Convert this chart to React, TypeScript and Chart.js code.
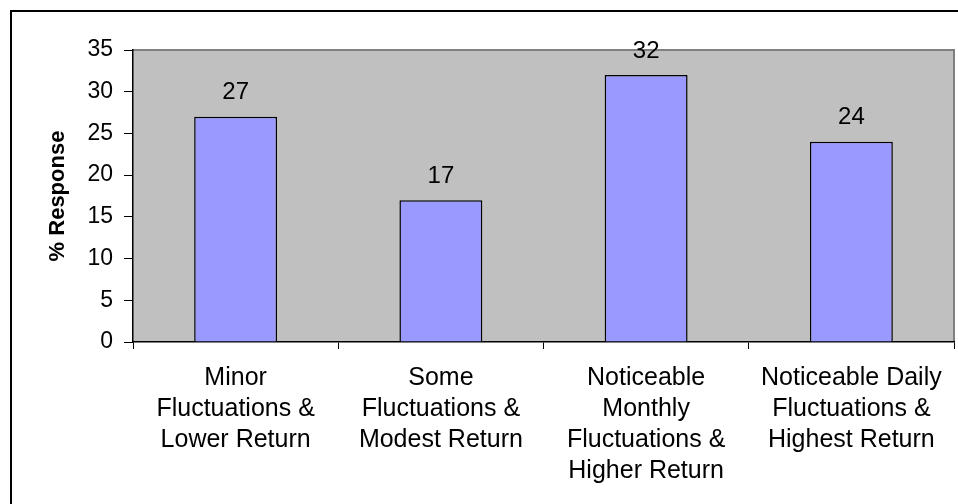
import React, { useEffect, useRef } from "react";
import { Chart, registerables } from "chart.js";

Chart.register(...registerables);

const categories: string[][] = [
  ["Minor", "Fluctuations &", "Lower Return"],
  ["Some", "Fluctuations &", "Modest Return"],
  ["Noticeable", "Monthly", "Fluctuations &", "Higher Return"],
  ["Noticeable Daily", "Fluctuations &", "Highest Return"],
];
const responseValues: number[] = [27, 17, 32, 24];
const yAxisTitle = "% Response";
const yMin = 0;
const yMax = 35;
const yStep = 5;

const FONT = "'Liberation Sans', Arial, sans-serif";

const plotBgPlugin = {
  id: "plotBg",
  beforeDraw(chart: any) {
    const { ctx, chartArea } = chart;
    if (!chartArea) return;
    ctx.save();
    ctx.fillStyle = "#C0C0C0";
    ctx.fillRect(chartArea.left, chartArea.top, chartArea.right - chartArea.left, chartArea.bottom - chartArea.top);
    ctx.strokeStyle = "#808080";
    ctx.lineWidth = 2;
    ctx.beginPath();
    ctx.moveTo(chartArea.left, chartArea.top);
    ctx.lineTo(chartArea.right, chartArea.top);
    ctx.lineTo(chartArea.right, chartArea.bottom);
    ctx.stroke();
    ctx.restore();
  },
};

const valueLabelPlugin = {
  id: "valueLabels",
  afterDatasetsDraw(chart: any) {
    const { ctx } = chart;
    const meta = chart.getDatasetMeta(0);
    const data = chart.data.datasets[0].data as number[];
    ctx.save();
    ctx.fillStyle = "#000";
    ctx.font = `24px ${FONT}`;
    ctx.textAlign = "center";
    ctx.textBaseline = "middle";
    meta.data.forEach((bar: any, i: number) => {
      ctx.fillText(String(data[i]), bar.x, bar.y - 24);
    });
    ctx.restore();
  },
};

export default function App() {
  const canvasRef = useRef<HTMLCanvasElement | null>(null);

  useEffect(() => {
    const canvas = canvasRef.current;
    if (!canvas) return;
    const chart = new Chart(canvas, {
      type: "bar",
      data: {
        labels: categories,
        datasets: [
          {
            data: responseValues,
            backgroundColor: "#9999FF",
            borderColor: "#000000",
            borderWidth: 1.5,
            barPercentage: 0.404,
            categoryPercentage: 1,
          },
        ],
      },
      options: {
        responsive: false,
        animation: false,
        devicePixelRatio: 1,
        layout: { padding: { left: 45, top: 50, right: 4, bottom: 0 } },
        plugins: {
          legend: { display: false },
          tooltip: { enabled: false },
          title: { display: false },
        },
        scales: {
          x: {
            offset: true,
            afterFit: (scale: any) => {
              scale.height = 162;
            },
            grid: {
              offset: true,
              drawOnChartArea: false,
              drawTicks: true,
              tickLength: 7,
              color: "#000000",
            },
            border: { display: true, color: "#000000", width: 1.5 },
            ticks: {
              color: "#000000",
              font: { family: FONT, size: 25, lineHeight: 1.24 },
              maxRotation: 0,
              minRotation: 0,
              autoSkip: false,
              padding: 14,
            },
          },
          y: {
            min: yMin,
            max: yMax,
            afterFit: (scale: any) => {
              scale.width = 88;
            },
            grid: {
              drawOnChartArea: false,
              drawTicks: true,
              tickLength: 9,
              color: "#000000",
            },
            border: { display: true, color: "#000000", width: 1.5 },
            ticks: {
              stepSize: yStep,
              color: "#000000",
              font: { family: FONT, size: 23 },
              padding: 11,
            },
            title: {
              display: true,
              text: yAxisTitle,
              color: "#000000",
              font: { family: FONT, size: 22, weight: "bold" },
              padding: { top: 0, bottom: 0 },
            },
          },
        },
      },
      plugins: [plotBgPlugin, valueLabelPlugin],
    });
    return () => chart.destroy();
  }, []);

  return (
    <div
      style={{
        position: "fixed",
        left: 0,
        top: 0,
        width: 958,
        height: 504,
        overflow: "hidden",
        background: "#ffffff",
      }}
    >
      <div
        style={{
          position: "absolute",
          left: 10,
          top: 10,
          width: 2000,
          height: 2000,
          border: "2px solid #000000",
          boxSizing: "border-box",
        }}
      />
      <canvas
        ref={canvasRef}
        width={958}
        height={504}
        style={{ position: "absolute", left: 0, top: 0, width: 958, height: 504 }}
      />
    </div>
  );
}
